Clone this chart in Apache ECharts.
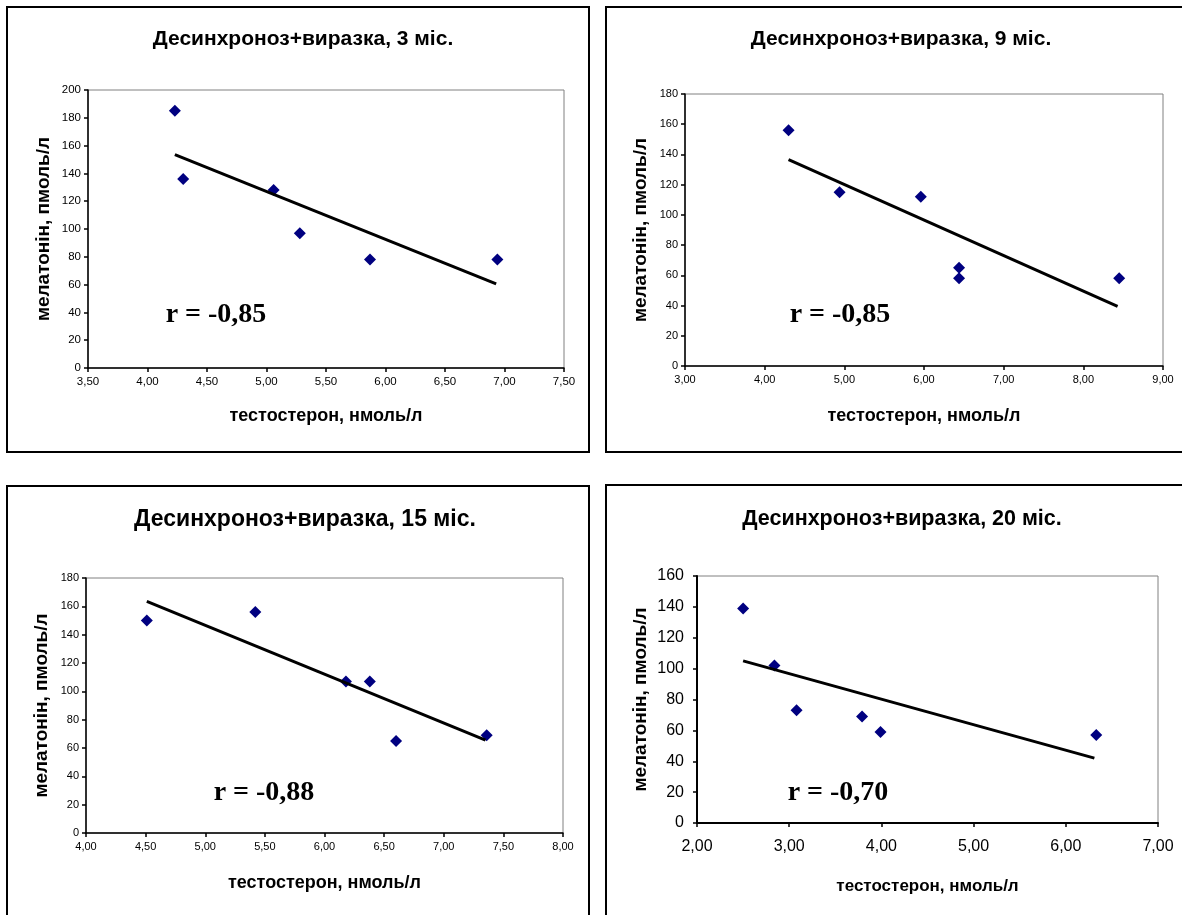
<!DOCTYPE html>
<html>
<head>
<meta charset="utf-8">
<script src="https://cdn.jsdelivr.net/npm/echarts@6/dist/echarts.min.js"></script>
<style>
html,body{margin:0;padding:0;background:#fff;}
#chart{width:1182px;height:915px;}
</style>
</head>
<body>
<div id="chart"></div>
<script>
// ---- data ----
const panelTitles = ['Десинхроноз+виразка, 3 міс.', 'Десинхроноз+виразка, 9 міс.', 'Десинхроноз+виразка, 15 міс.', 'Десинхроноз+виразка, 20 міс.'];
const corrLabels = ['r = -0,85', 'r = -0,85', 'r = -0,88', 'r = -0,70'];
const xName = 'тестостерон, нмоль/л';
const yName = 'мелатонін, пмоль/л';

const testo3 = [4.23, 4.30, 5.06, 5.28, 5.87, 6.94];
const melat3 = [185, 136, 128, 97, 78, 78];
const trend3 = [[4.23, 153.5], [6.93, 60.5]];

const testo9 = [4.30, 4.94, 5.96, 6.44, 6.44, 8.45];
const melat9 = [156, 115, 112, 65, 58, 58];
const trend9 = [[4.30, 136.5], [8.43, 39.5]];

const testo15 = [4.51, 5.42, 6.18, 6.38, 6.60, 7.36];
const melat15 = [150, 156, 107, 107, 65, 69];
const trend15 = [[4.51, 163.5], [7.35, 65.5]];

const testo20 = [2.50, 2.84, 3.08, 3.79, 3.99, 6.33];
const melat20 = [139, 102, 73, 69, 59, 57];
const trend20 = [[2.50, 105], [6.31, 42]];

const xMin = [3.5, 3, 4, 2], xMax = [7.5, 9, 8, 7], xStep = [0.5, 1, 0.5, 1];
const yMax = [200, 180, 180, 160], yStep = [20, 20, 20, 20];

// ---- layout ----
const SANS = "'Liberation Sans', Arial, sans-serif";
const SERIF = "'Liberation Serif', 'Times New Roman', serif";
const grids = [
  {left: 88, top: 90, width: 476, height: 278},
  {left: 685, top: 94, width: 478, height: 272},
  {left: 86, top: 578, width: 477, height: 255},
  {left: 697, top: 576, width: 461, height: 247}
];
const titlePos = [[298, 36, 21], [896, 36, 21], [300, 517, 23], [897, 516, 21.5]];
const corrPos = [[216, 315], [840, 315], [264, 793], [838, 793]];
const tickFont = [11.5, 11, 11, 16];
const tickMarginX = [8, 8, 8, 16];
const tickMarginY = [7, 7, 7, 13];
const xNameFont = [18, 18, 18, 17];
const xNameGap = [39, 41, 41, 55];
const yNameFont = [19, 19, 19, 19];
const yNameGap = [35, 35, 35, 47];
const axisW = [1.5, 1.5, 1.5, 2];

const pts = [
  testo3.map((x, i) => [x, melat3[i]]),
  testo9.map((x, i) => [x, melat9[i]]),
  testo15.map((x, i) => [x, melat15[i]]),
  testo20.map((x, i) => [x, melat20[i]])
];
const trends = [trend3, trend9, trend15, trend20];

const fmt = v => v.toFixed(2).replace('.', ',');

const option = {
  animation: false,
  backgroundColor: '#fff',
  title: panelTitles.map((t, i) => ({
    text: t,
    left: titlePos[i][0],
    top: titlePos[i][1] - titlePos[i][2] * 0.6,
    textAlign: 'center',
    textStyle: {fontFamily: SANS, fontWeight: 'bold', fontSize: titlePos[i][2], color: '#000'}
  })),
  grid: grids.map(g => Object.assign({show: true, borderColor: '#808080', borderWidth: 1, backgroundColor: '#fff'}, g)),
  xAxis: grids.map((g, i) => ({
    type: 'value', gridIndex: i, min: xMin[i], max: xMax[i], interval: xStep[i],
    name: xName, nameLocation: 'middle', nameGap: xNameGap[i],
    nameTextStyle: {fontFamily: SANS, fontWeight: 'bold', fontSize: xNameFont[i], color: '#000'},
    axisLine: {show: true, onZero: false, lineStyle: {color: '#000', width: axisW[i]}},
    axisTick: {show: true, inside: false, length: 4, lineStyle: {color: '#000', width: 1.5}},
    axisLabel: {formatter: fmt, fontFamily: SANS, fontSize: tickFont[i], color: '#000', margin: tickMarginX[i]},
    splitLine: {show: false}
  })),
  yAxis: grids.map((g, i) => ({
    type: 'value', gridIndex: i, min: 0, max: yMax[i], interval: yStep[i],
    name: yName, nameLocation: 'middle', nameGap: yNameGap[i], nameRotate: 90,
    nameTextStyle: {fontFamily: SANS, fontWeight: 'bold', fontSize: yNameFont[i], color: '#000'},
    axisLine: {show: true, onZero: false, lineStyle: {color: '#000', width: axisW[i]}},
    axisTick: {show: true, inside: false, length: 4, lineStyle: {color: '#000', width: 1.5}},
    axisLabel: {fontFamily: SANS, fontSize: tickFont[i], color: '#000', margin: tickMarginY[i]},
    splitLine: {show: false}
  })),
  series: [].concat(
    pts.map((d, i) => ({
      type: 'scatter', xAxisIndex: i, yAxisIndex: i, data: d,
      symbol: 'diamond', symbolSize: 12,
      itemStyle: {color: '#000080', opacity: 1}, z: 3
    })),
    trends.map((d, i) => ({
      type: 'line', xAxisIndex: i, yAxisIndex: i, data: d,
      showSymbol: false, symbol: 'none',
      lineStyle: {color: '#000', width: 3, cap: 'butt'}, z: 4
    }))
  ),
  graphic: [
    {type: 'rect', shape: {x: 7, y: 7, width: 582, height: 445}, style: {fill: 'none', stroke: '#000', lineWidth: 2}, z: 0},
    {type: 'rect', shape: {x: 606, y: 7, width: 600, height: 445}, style: {fill: 'none', stroke: '#000', lineWidth: 2}, z: 0},
    {type: 'rect', shape: {x: 7, y: 486, width: 582, height: 460}, style: {fill: 'none', stroke: '#000', lineWidth: 2}, z: 0},
    {type: 'rect', shape: {x: 606, y: 485, width: 600, height: 460}, style: {fill: 'none', stroke: '#000', lineWidth: 2}, z: 0}
  ].concat(corrLabels.map((t, i) => ({
    type: 'text', x: corrPos[i][0], y: corrPos[i][1], z: 10,
    style: {text: t, fill: '#000', font: 'bold 28px ' + SERIF, align: 'center', verticalAlign: 'middle'}
  })))
};

const chart = echarts.init(document.getElementById('chart'), null, {renderer: 'canvas'});
chart.setOption(option);
</script>
</body>
</html>
